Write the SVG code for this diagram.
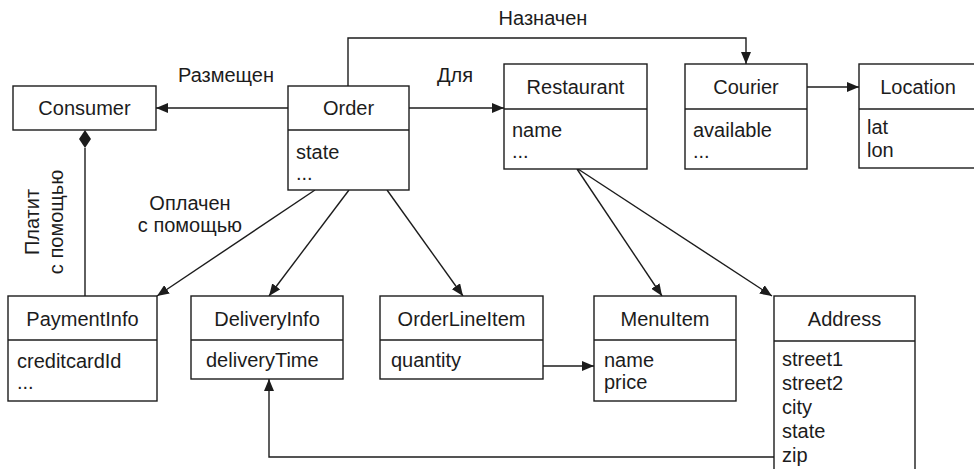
<svg xmlns="http://www.w3.org/2000/svg" width="974" height="469" viewBox="0 0 974 469">
<style>
  .box{fill:#fff;stroke:#1c1c1c;stroke-width:1.4}
  .div{stroke:#1c1c1c;stroke-width:1.4}
  .t{font-family:"Liberation Sans",Arial,sans-serif;font-size:20px;fill:#1c1c1c}
  .c{text-anchor:middle}
  .ln{fill:none;stroke:#1c1c1c;stroke-width:1.4}
</style>
<defs>
  <marker id="arr" viewBox="0 0 12 10" refX="12" refY="5" markerWidth="12" markerHeight="10" markerUnits="userSpaceOnUse" orient="auto">
    <path d="M0,0 L12,5 L0,10 z" fill="#1c1c1c"/>
  </marker>
</defs>
<rect width="974" height="469" fill="#fff"/>

<g id="connectors">
  <path class="ln" d="M288,108 L156,108" marker-end="url(#arr)"/>
  <path class="ln" d="M409,108 L504,108" marker-end="url(#arr)"/>
  <path class="ln" d="M348,86 V38 H746 V64" marker-end="url(#arr)"/>
  <path class="ln" d="M807,87 L859,87" marker-end="url(#arr)"/>
  <path class="ln" d="M85,148 V296"/>
  <polygon points="85,130 91,139 85,148 79,139" fill="#1c1c1c"/>
  <path class="ln" d="M315,190 L157,296" marker-end="url(#arr)"/>
  <path class="ln" d="M349,190 L269,296" marker-end="url(#arr)"/>
  <path class="ln" d="M387,190 L463,296" marker-end="url(#arr)"/>
  <path class="ln" d="M577,169 L662,296" marker-end="url(#arr)"/>
  <path class="ln" d="M578,169 L772,296" marker-end="url(#arr)"/>
  <path class="ln" d="M543,366 L594,366" marker-end="url(#arr)"/>
  <path class="ln" d="M774,457 H269 V379" marker-end="url(#arr)"/>
  <text class="t c" x="226" y="82">Размещен</text>
  <text class="t c" x="455" y="82">Для</text>
  <text class="t c" x="543" y="25">Назначен</text>
  <text class="t c" x="190" y="210">Оплачен</text>
  <text class="t c" x="190" y="232">с помощью</text>
  <text class="t c" transform="translate(39,222) rotate(-90)">Платит</text>
  <text class="t c" transform="translate(63,222) rotate(-90)">с помощью</text>
</g>

<g id="consumer">
  <rect class="box" x="13" y="86" width="143" height="44"/>
  <text class="t c" x="84.5" y="115">Consumer</text>
</g>

<g id="order">
  <rect class="box" x="288" y="86" width="121" height="104"/>
  <line class="div" x1="288" y1="130" x2="409" y2="130"/>
  <text class="t c" x="348.5" y="115">Order</text>
  <text class="t" x="296" y="159">state</text>
  <text class="t" x="296" y="180">...</text>
</g>

<g id="restaurant">
  <rect class="box" x="504" y="64" width="143" height="105"/>
  <line class="div" x1="504" y1="109" x2="647" y2="109"/>
  <text class="t c" x="575.5" y="94">Restaurant</text>
  <text class="t" x="512" y="137">name</text>
  <text class="t" x="512" y="158">...</text>
</g>

<g id="courier">
  <rect class="box" x="685" y="64" width="122" height="105"/>
  <line class="div" x1="685" y1="109" x2="807" y2="109"/>
  <text class="t c" x="746" y="94">Courier</text>
  <text class="t" x="693" y="137">available</text>
  <text class="t" x="693" y="158">...</text>
</g>

<g id="location">
  <rect class="box" x="859" y="64" width="120" height="104"/>
  <line class="div" x1="859" y1="109" x2="979" y2="109"/>
  <text class="t c" x="918" y="94">Location</text>
  <text class="t" x="867" y="134">lat</text>
  <text class="t" x="867" y="157">lon</text>
</g>

<g id="paymentinfo">
  <rect class="box" x="8" y="296" width="149" height="105"/>
  <line class="div" x1="8" y1="340" x2="157" y2="340"/>
  <text class="t c" x="82.5" y="326">PaymentInfo</text>
  <text class="t" x="17" y="368">creditcardId</text>
  <text class="t" x="17" y="389">...</text>
</g>

<g id="deliveryinfo">
  <rect class="box" x="191" y="296" width="152" height="83"/>
  <line class="div" x1="191" y1="340" x2="343" y2="340"/>
  <text class="t c" x="267" y="326">DeliveryInfo</text>
  <text class="t" x="206" y="367">deliveryTime</text>
</g>

<g id="orderlineitem">
  <rect class="box" x="380" y="296" width="163" height="83"/>
  <line class="div" x1="380" y1="340" x2="543" y2="340"/>
  <text class="t c" x="461.5" y="326">OrderLineItem</text>
  <text class="t" x="391" y="367">quantity</text>
</g>

<g id="menuitem">
  <rect class="box" x="594" y="296" width="142" height="105"/>
  <line class="div" x1="594" y1="340" x2="736" y2="340"/>
  <text class="t c" x="665" y="326">MenuItem</text>
  <text class="t" x="604" y="367">name</text>
  <text class="t" x="604" y="389">price</text>
</g>

<g id="address">
  <rect class="box" x="774" y="296" width="141" height="190"/>
  <line class="div" x1="774" y1="341" x2="915" y2="341"/>
  <text class="t c" x="844.5" y="326">Address</text>
  <text class="t" x="782" y="366">street1</text>
  <text class="t" x="782" y="390">street2</text>
  <text class="t" x="782" y="414">city</text>
  <text class="t" x="782" y="438">state</text>
  <text class="t" x="782" y="462">zip</text>
</g>
</svg>
